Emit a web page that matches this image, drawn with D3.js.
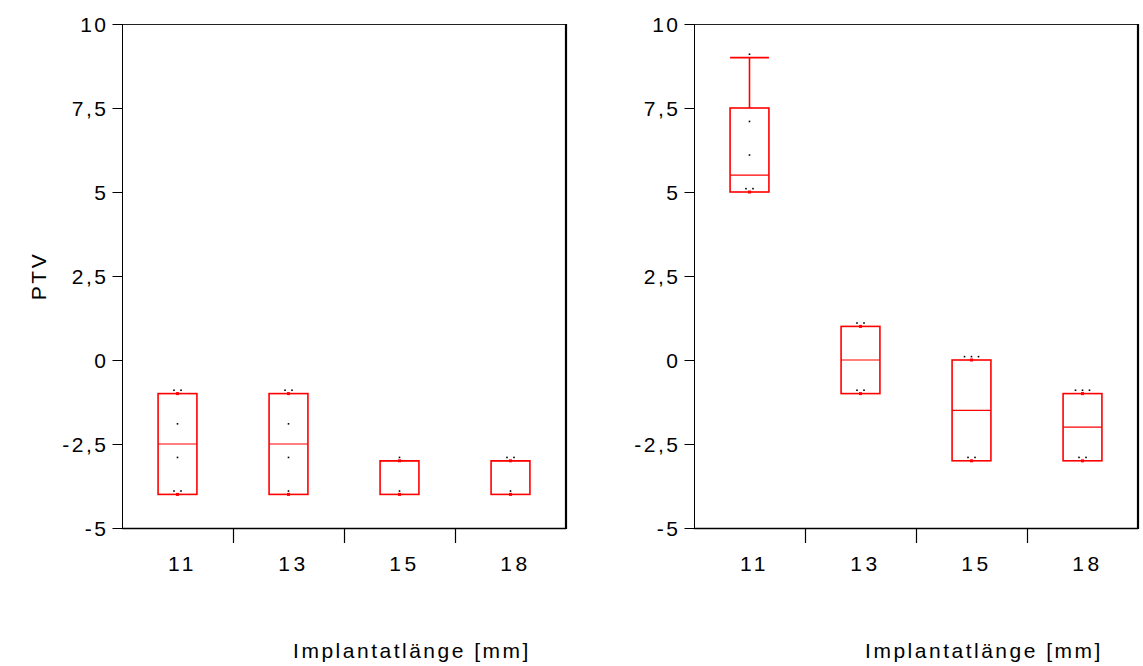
<!DOCTYPE html>
<html>
<head>
<meta charset="utf-8">
<script src="https://cdn.jsdelivr.net/npm/d3@7"></script>
<style>
  html, body { margin: 0; padding: 0; background: #fff; }
  text { font-family: "Liberation Sans", Arial, sans-serif; fill: #000; }
</style>
</head>
<body>
<svg id="chart" width="1143" height="666"></svg>
<script>
// Implant length groups (mm)
const categories = ["11", "13", "15", "18"];

// Y axis ticks and their German-formatted labels
const yTicks = [-5, -2.5, 0, 2.5, 5, 7.5, 10];
const yTickLabels = ["-5", "-2,5", "0", "2,5", "5", "7,5", "10"];

// Left panel: box statistics per group
const leftQ1 = [-4, -4, -4, -4];
const leftMedian = [-2.5, -2.5, -3, -3];
const leftQ3 = [-1, -1, -3, -3];
const leftWhiskerLow = [-4, -4, -4, -4];
const leftWhiskerHigh = [-1, -1, -3, -3];
// Left panel: individual observations
const leftPoints = [
  [-0.9, -0.9, -1.9, -2.9, -3.9, -3.9],
  [-0.9, -0.9, -1.9, -2.9, -3.9],
  [-2.9, -3.9],
  [-2.9, -2.9, -3.9]
];

// Right panel: box statistics per group
const rightQ1 = [5, -1, -3, -3];
const rightMedian = [5.5, 0, -1.5, -2];
const rightQ3 = [7.5, 1, 0, -1];
const rightWhiskerLow = [5, -1, -3, -3];
const rightWhiskerHigh = [9, 1, 0, -1];
// Right panel: individual observations
const rightPoints = [
  [9.1, 7.1, 6.1, 5.1, 5.1],
  [1.1, 1.1, -0.9, -0.9],
  [0.1, 0.1, 0.1, -2.9, -2.9],
  [-0.9, -0.9, -0.9, -2.9, -2.9]
];

const xTitle = "Implantatlänge [mm]";
const yTitle = "PTV";

const svg = d3.select("#chart");
const plotTop = 24, plotBottom = 528;
const y = d3.scaleLinear().domain([-5, 10]).range([plotBottom, plotTop]);

const panels = [
  { x0: 122, x1: 566, q1: leftQ1, med: leftMedian, q3: leftQ3, wl: leftWhiskerLow, wh: leftWhiskerHigh, pts: leftPoints, showYTitle: true },
  { x0: 694, x1: 1138, q1: rightQ1, med: rightMedian, q3: rightQ3, wl: rightWhiskerLow, wh: rightWhiskerHigh, pts: rightPoints, showYTitle: false }
];

const RED = "#ff0000";
const FS = "21px";
const LS = "2.5px";

panels.forEach(p => {
  const g = svg.append("g");
  const x = d3.scaleBand().domain(categories).range([p.x0, p.x1]).padding(0);
  const bw = x.bandwidth() * 0.35;

  // frame
  g.append("line").attr("x1", p.x0).attr("x2", p.x1).attr("y1", plotTop + 0.5).attr("y2", plotTop + 0.5)
    .attr("stroke", "#222").attr("stroke-width", 1);
  g.append("line").attr("x1", p.x1).attr("x2", p.x1).attr("y1", plotTop).attr("y2", plotBottom + 1)
    .attr("stroke", "#000").attr("stroke-width", 2.2);

  // y axis
  const yAxis = d3.axisLeft(y).tickValues(yTicks).tickSize(10)
    .tickFormat((d, i) => yTickLabels[i]);
  const ya = g.append("g").attr("transform", `translate(${p.x0 + 0.5},0)`).call(yAxis);
  ya.select(".domain").attr("stroke", "#000").attr("d", `M0,${plotTop}V${plotBottom}`);
  ya.selectAll(".tick line").attr("stroke", "#000");
  ya.selectAll(".tick text")
    .attr("x", -14).attr("dy", null).attr("y", 7.5)
    .style("font-size", FS).style("letter-spacing", LS)
    .style("font-family", "'Liberation Sans', Arial, sans-serif").attr("fill", "#000");

  // x axis: ticks between groups, labels below
  g.append("line").attr("x1", p.x0).attr("x2", p.x1).attr("y1", plotBottom + 0.5).attr("y2", plotBottom + 0.5)
    .attr("stroke", "#000").attr("stroke-width", 1.5);
  g.selectAll(".xtick").data(categories.slice(1)).join("line")
    .attr("x1", d => x(d) + 0.5).attr("x2", d => x(d) + 0.5)
    .attr("y1", plotBottom).attr("y2", plotBottom + 15)
    .attr("stroke", "#000").attr("stroke-width", 1.2);
  g.selectAll(".xlab").data(categories).join("text")
    .attr("x", d => x(d) + x.bandwidth() / 2 + 5).attr("y", 571)
    .attr("text-anchor", "middle")
    .style("font-size", FS).style("letter-spacing", "3.5px")
    .text(d => d);

  // axis title
  g.append("text").attr("x", (p.x0 + p.x1) / 2 + 68).attr("y", 658)
    .attr("text-anchor", "middle").style("font-size", FS).style("letter-spacing", LS)
    .text(xTitle);

  if (p.showYTitle) {
    g.append("text").attr("transform", `translate(46,276) rotate(-90)`)
      .attr("text-anchor", "middle").style("font-size", FS).style("letter-spacing", LS)
      .text(yTitle);
  }

  // boxes
  categories.forEach((c, i) => {
    const cx = x(c) + x.bandwidth() / 2;
    const bx0 = cx - bw / 2, bx1 = cx + bw / 2;
    const bg = g.append("g").attr("stroke", RED).attr("fill", "none").attr("stroke-width", 1.6);

    // whiskers
    [[p.q3[i], p.wh[i]], [p.q1[i], p.wl[i]]].forEach(([edge, w]) => {
      if (w !== edge) {
        bg.append("line").attr("x1", cx).attr("x2", cx).attr("y1", y(edge)).attr("y2", y(w));
        bg.append("line").attr("x1", bx0).attr("x2", bx1).attr("y1", y(w)).attr("y2", y(w));
      } else {
        bg.append("rect").attr("x", cx - 1.5).attr("y", y(w) - 1.5).attr("width", 3).attr("height", 3)
          .attr("fill", RED).attr("stroke", "none");
      }
    });

    bg.append("rect").attr("x", bx0).attr("y", y(p.q3[i]))
      .attr("width", bw).attr("height", y(p.q1[i]) - y(p.q3[i]));
    bg.append("line").attr("x1", bx0).attr("x2", bx1)
      .attr("y1", y(p.med[i])).attr("y2", y(p.med[i])).attr("stroke-width", 1.2);

    // observations: equal values are spread side by side
    const groups = d3.group(p.pts[i], v => v);
    groups.forEach((vals, v) => {
      const n = vals.length;
      vals.forEach((_, k) => {
        const dx = (k - (n - 1) / 2) * 7;
        g.append("rect").attr("x", cx + dx - 0.8).attr("y", y(v) - 0.8)
          .attr("width", 1.6).attr("height", 1.6).attr("fill", "#000");
      });
    });
  });
});
</script>
</body>
</html>
